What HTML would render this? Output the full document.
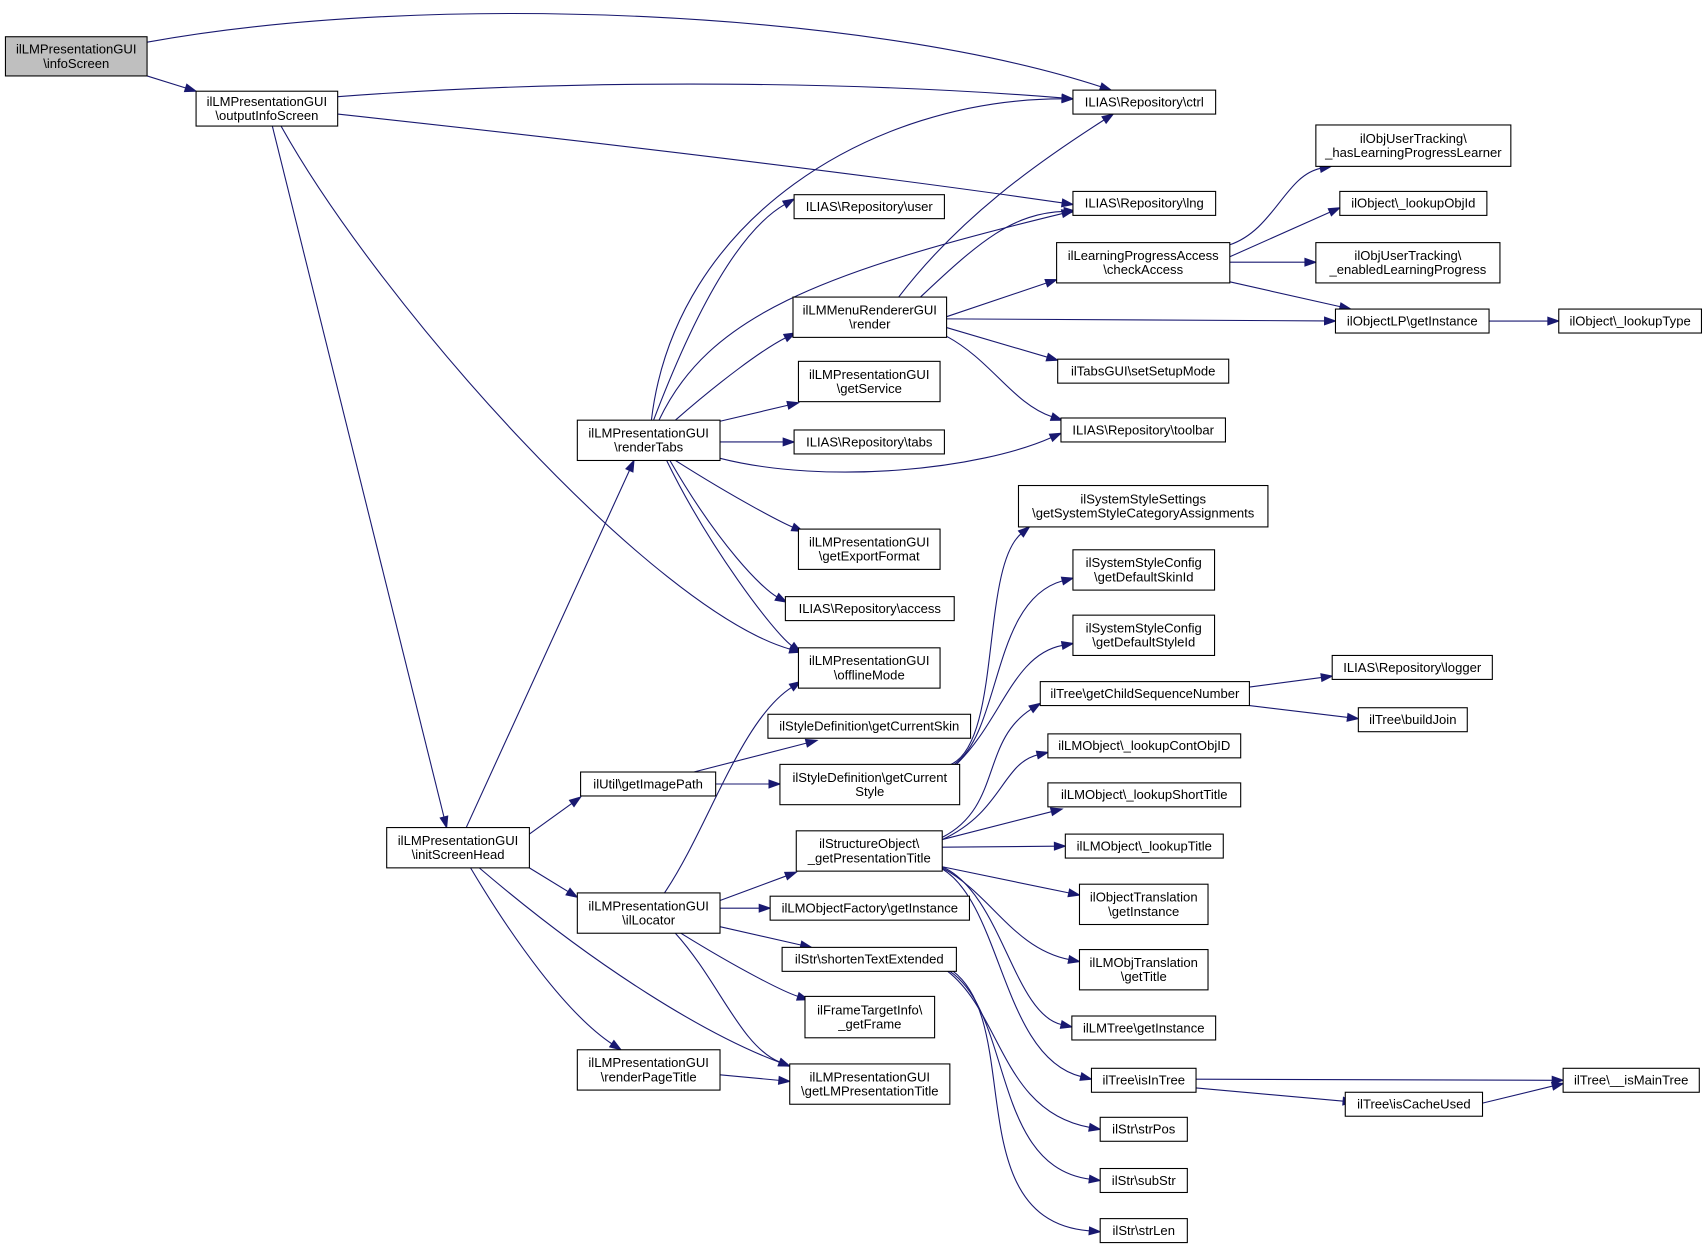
<!DOCTYPE html>
<html><head><meta charset="utf-8"><style>
html,body{margin:0;padding:0;background:#fff;}
svg{display:block;}
text{font-family:"Liberation Sans",Arial,sans-serif;font-size:12px;fill:#000;}
</style></head><body>
<svg id="g" width="1708" height="1251" viewBox="0 0 1568 1147" xmlns="http://www.w3.org/2000/svg"></svg>
<script>
var N={
a:[5,33,130,36,"ilLMPresentationGUI\n\\infoScreen",1],
b:[180,83,130,32,"ilLMPresentationGUI\n\\outputInfoScreen"],
ctrl:[985,82,131,22,"ILIAS\\Repository\\ctrl"],
lng:[985,175,131,22,"ILIAS\\Repository\\lng"],
user:[729,178,138,22,"ILIAS\\Repository\\user"],
hlp:[1208,114,179,38,"ilObjUserTracking\\\n_hasLearningProgressLearner"],
loid:[1230,175,135,22,"ilObject\\_lookupObjId"],
ca:[970,222,159,37,"ilLearningProgressAccess\n\\checkAccess"],
elp:[1208,222,169,37,"ilObjUserTracking\\\n_enabledLearningProgress"],
mr:[728,272,141,37,"ilLMMenuRendererGUI\n\\render"],
olp:[1226,283,141,22,"ilObjectLP\\getInstance"],
lt:[1431,283,131,22,"ilObject\\_lookupType"],
gs:[733,331,130,37,"ilLMPresentationGUI\n\\getService"],
ssm:[971,329,157,22,"ilTabsGUI\\setSetupMode"],
rt:[530,385,131,37,"ilLMPresentationGUI\n\\renderTabs"],
tabs:[729,394,138,22,"ILIAS\\Repository\\tabs"],
tb:[974,383,151,22,"ILIAS\\Repository\\toolbar"],
sss:[935,445,229,38,"ilSystemStyleSettings\n\\getSystemStyleCategoryAssignments"],
ef:[733,485,130,37,"ilLMPresentationGUI\n\\getExportFormat"],
dsk:[985,504,130,37,"ilSystemStyleConfig\n\\getDefaultSkinId"],
acc:[721,547,155,22,"ILIAS\\Repository\\access"],
dst:[985,564,130,37,"ilSystemStyleConfig\n\\getDefaultStyleId"],
om:[733,594,130,37,"ilLMPresentationGUI\n\\offlineMode"],
log:[1223,601,147,22,"ILIAS\\Repository\\logger"],
csn:[955,625,192,22,"ilTree\\getChildSequenceNumber"],
cs:[705,655,186,22,"ilStyleDefinition\\getCurrentSkin"],
bj:[1247,649,100,22,"ilTree\\buildJoin"],
gip:[533,708,124,22,"ilUtil\\getImagePath"],
cst:[716,701,165,37,"ilStyleDefinition\\getCurrent\nStyle"],
lco:[962,673,177,22,"ilLMObject\\_lookupContObjID"],
lst:[962,718,177,22,"ilLMObject\\_lookupShortTitle"],
ish:[355,759,131,37,"ilLMPresentationGUI\n\\initScreenHead"],
gpt:[731,762,134,37,"ilStructureObject\\\n_getPresentationTitle"],
ltt:[978,765,145,22,"ilLMObject\\_lookupTitle"],
loc:[530,819,131,37,"ilLMPresentationGUI\n\\ilLocator"],
lof:[707,822,183,22,"ilLMObjectFactory\\getInstance"],
oti:[991,811,118,37,"ilObjectTranslation\n\\getInstance"],
ste:[718,869,160,22,"ilStr\\shortenTextExtended"],
lmt:[991,871,118,37,"ilLMObjTranslation\n\\getTitle"],
gf:[739,914,119,38,"ilFrameTargetInfo\\\n_getFrame"],
lmti:[984,932,132,22,"ilLMTree\\getInstance"],
rpt:[530,963,131,37,"ilLMPresentationGUI\n\\renderPageTitle"],
glp:[725,976,147,37,"ilLMPresentationGUI\n\\getLMPresentationTitle"],
iit:[1002,980,96,22,"ilTree\\isInTree"],
imt:[1435,980,125,22,"ilTree\\__isMainTree"],
icu:[1235,1002,126,22,"ilTree\\isCacheUsed"],
sp:[1010,1025,80,22,"ilStr\\strPos"],
ss:[1010,1072,80,22,"ilStr\\subStr"],
sl:[1010,1118,80,22,"ilStr\\strLen"]
};
var P=[
"M135,38 C400,-10 800,10 1020,82",
"M310,88 C550,70 800,75 985,90",
"M310,104 C550,130 800,160 985,187",
"M258,115 C350,280 600,560 735,598",
"M250,115 L410,759",
"M598,385 C620,200 800,90 985,90",
"M600,385 C640,280 680,210 729,182",
"M605,385 C650,290 750,250 985,193",
"M620,385 C660,350 700,320 730,305",
"M661,420 C760,445 900,430 974,397",
"M620,422 C680,460 720,480 737,487",
"M615,422 C660,500 700,540 722,552",
"M612,422 C650,500 710,580 735,598",
"M825,272 C880,200 950,150 1022,104",
"M845,272 C900,220 930,195 987,193",
"M869,308 C910,330 930,370 975,385",
"M428,759 L582,422",
"M432,796 C470,860 520,930 570,963",
"M440,796 C550,890 650,950 725,978",
"M610,819 C650,760 680,660 735,625",
"M620,856 C660,900 680,960 725,978",
"M625,856 C680,890 720,910 742,917",
"M873,701 C920,680 900,520 945,483",
"M876,701 C920,670 910,550 985,530",
"M878,701 C920,660 930,600 985,590",
"M865,768 C920,740 900,680 955,645",
"M865,770 C920,745 920,700 962,690",
"M865,795 C920,820 930,930 984,942",
"M865,797 C920,830 920,970 1002,990",
"M865,796 C910,820 930,870 991,882",
"M870,891 C920,930 920,1020 1010,1036",
"M872,891 C930,930 910,1070 1010,1083",
"M875,891 C940,940 880,1120 1010,1130",
"M1129,224 C1170,210 1180,160 1222,152",
"M1129,235 L1230,190",
"M1129,240 L1208,240",
"M1129,258 L1240,283",
"M869,292 L1226,294",
"M869,290 L970,256",
"M869,300 L971,330",
"M1367,294 L1431,294",
"M637,708 L750,679",
"M657,719 L716,719",
"M486,765 L533,731",
"M486,796 L530,823",
"M661,826 L731,800",
"M661,833 L707,833",
"M661,850 L745,869",
"M865,777 L978,776",
"M865,770 L975,742",
"M865,795 L991,821",
"M661,386 L733,369",
"M661,405 L729,405",
"M1147,630 L1223,620",
"M1147,647 L1247,659",
"M1098,990 L1435,991",
"M1098,998 L1243,1011",
"M1361,1012 L1435,994",
"M661,986 L725,992",
"M135,69 L180,83"
];
var s='',C='#191970';
P.forEach(function(d){
 var n=d.replace(/[MCL]/g,' ').trim().split(/[\s,]+/).map(Number);
 var L=n.length,ex=n[L-2],ey=n[L-1],px=n[L-4],py=n[L-3];
 var dx=ex-px,dy=ey-py,l=Math.hypot(dx,dy);dx/=l;dy/=l;
 var bx=ex-dx*10,by=ey-dy*10;
 s+='<path d="'+d.replace(/(\S+,\S+)$/, (bx+dx*0.5).toFixed(1)+','+(by+dy*0.5).toFixed(1))+'" fill="none" stroke="'+C+'" stroke-width="1"/>';
 s+='<polygon points="'+ex+','+ey+' '+(bx-dy*3.5)+','+(by+dx*3.5)+' '+(bx+dy*3.5)+','+(by-dx*3.5)+'" fill="'+C+'" stroke="'+C+'"/>';
});
for(var k in N){var v=N[k];
 s+='<rect x="'+v[0]+'" y="'+v[1]+'" width="'+v[2]+'" height="'+v[3]+'" fill="'+(v[5]?'#bfbfbf':'#fff')+'" stroke="#000" stroke-width="1"/>';
 var t=v[4].split('\n'),cx=v[0]+v[2]/2,cy=v[1]+v[3]/2;
 t.forEach(function(line,i){var y=cy+(i-(t.length-1)/2)*13+4;
  s+='<text x="'+cx+'" y="'+y+'" text-anchor="middle">'+line.replace(/&/g,'&amp;').replace(/</g,'&lt;')+'</text>';});
}
document.getElementById('g').innerHTML=s;
</script>
</body></html>
